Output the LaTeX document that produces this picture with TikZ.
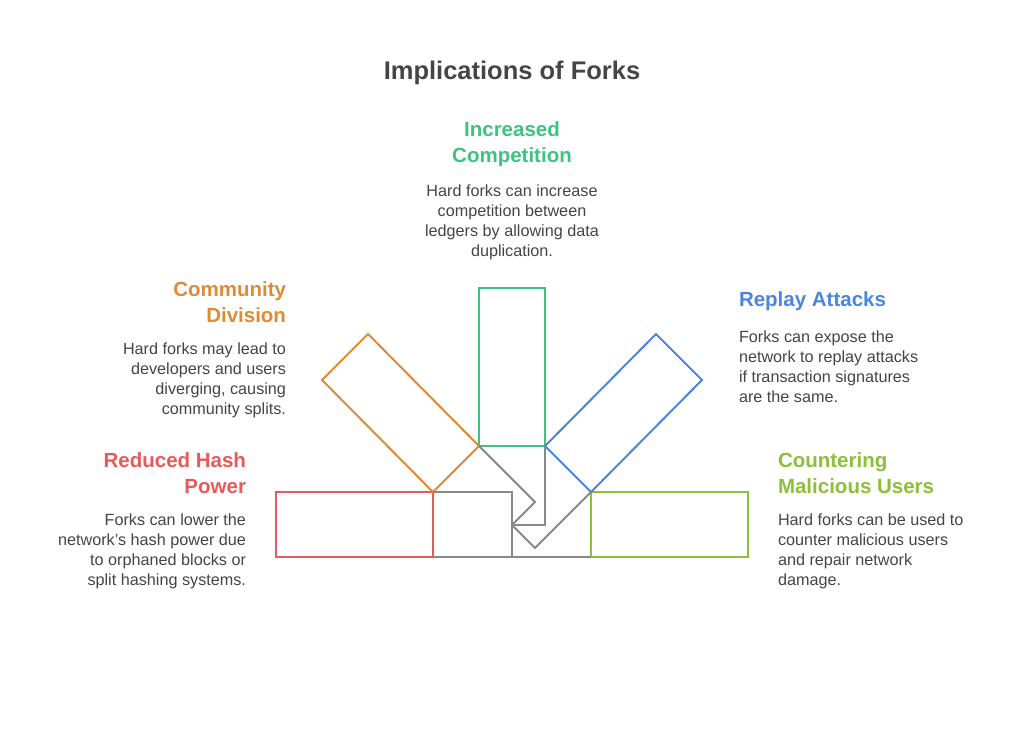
\documentclass[tikz,border=0pt]{standalone}
\usepackage{fontspec}
\setmainfont{Liberation Sans}
\definecolor{txt}{HTML}{454545}
\definecolor{cred}{HTML}{E85A5A}
\definecolor{corange}{HTML}{E08A35}
\definecolor{cgreen}{HTML}{3EC47E}
\definecolor{cblue}{HTML}{4A86E0}
\definecolor{clime}{HTML}{8CBF3A}
\definecolor{cgray}{HTML}{888888}
\begin{document}
\begin{tikzpicture}[x=1pt, y=-1pt, line width=2pt,
  head/.style = {font=\fontsize{20.5}{26}\selectfont\bfseries, inner sep=0pt},
  body/.style = {font=\fontsize{16.2}{20}\selectfont, text=txt, inner sep=0pt},
  bar/.style = {line join=miter}]
\useasboundingbox[fill=white] (0,0) rectangle (1024,735);
\node[head, text=txt, font=\fontsize{25.5}{30}\selectfont\bfseries] (title) at (512,73) {Implications of Forks};

% corner points
\coordinate (p1) at (433,492);
\coordinate (p2) at (479,446);
\coordinate (p3) at (545,446);
\coordinate (p4) at (591,492);

% bars
\draw[bar, cred] (276,492) rectangle (433,557);
\draw[bar, clime] (591,492) rectangle (748,557);
\draw[bar, cgreen] (479,288) rectangle (545,446);
\draw[bar, corange] (p1) -- (p2) -- (368,334) -- (322,380) -- cycle;
\draw[bar, cblue] (p3) -- (p4) -- (702,380) -- (656,334) -- cycle;

% gray joints
\draw[bar, cgray] (p1) -- (512,492) -- (512,557);
\draw[bar, cgray] (433,557) -- (591,557);
\draw[bar, cgray] (p2) -- (535,502) -- (512,525);
\draw[bar, cgray] (p3) -- (545,525) -- (512,525);
\draw[bar, cgray] (512,525) -- (535,548) -- (p4);

% labels
\node[head, text=cgreen, align=center] (compH) at (512,144) {Increased\\Competition};
\node[body, align=center] (compB) at (512,222) {Hard forks can increase\\competition between\\ledgers by allowing data\\duplication.};
\node[head, text=corange, align=right, anchor=east] (commH) at (287,302) {Community\\Division};
\node[body, align=right, anchor=east] (commB) at (287,380) {Hard forks may lead to\\developers and users\\diverging, causing\\community splits.};
\node[head, text=cblue, anchor=west] (repH) at (738,301) {Replay Attacks};
\node[body, align=left, anchor=west] (repB) at (738,367) {Forks can expose the\\network to replay attacks\\if transaction signatures\\are the same.};
\node[head, text=cred, align=right, anchor=east] (hashH) at (247,473) {Reduced Hash\\Power};
\node[body, align=right, anchor=east] (hashB) at (247,551) {Forks can lower the\\network's hash power due\\to orphaned blocks or\\split hashing systems.};
\node[head, text=clime, align=left, anchor=west] (malH) at (777,473) {Countering\\Malicious Users};
\node[body, align=left, anchor=west] (malB) at (777,551) {Hard forks can be used to\\counter malicious users\\and repair network\\damage.};
\end{tikzpicture}
\end{document}
